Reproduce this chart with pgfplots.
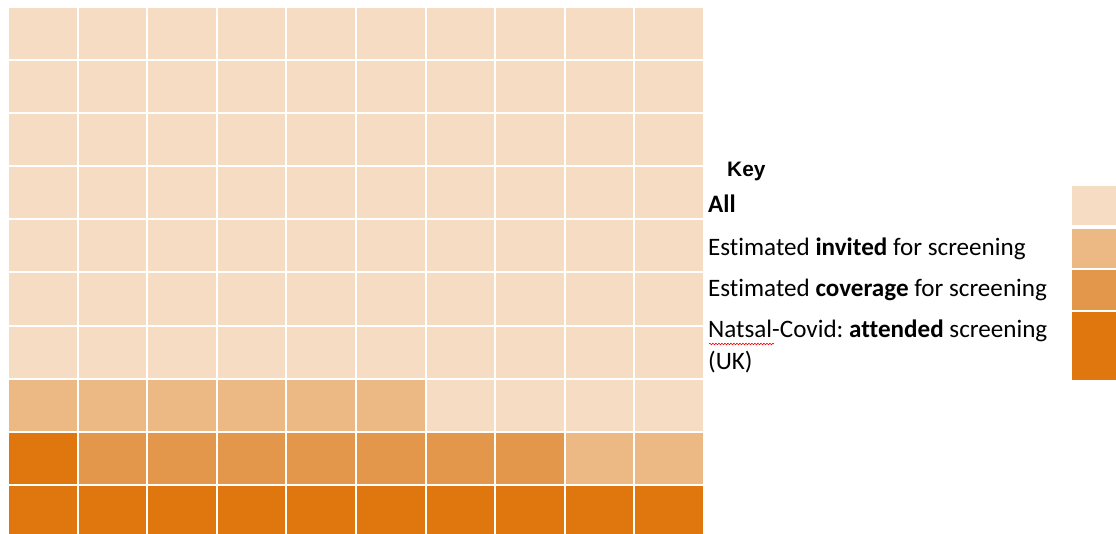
\documentclass[border=0pt]{standalone}
\usepackage{fontspec}
\setmainfont{Carlito}[Ligatures=NoCommon]
\newfontfamily\keyfont{Liberation Sans}
\usepackage{pgfplots}
\usepackage{pgfplotstable}
\pgfplotsset{compat=1.18}
\usetikzlibrary{decorations.pathmorphing}

\definecolor{cAll}{HTML}{F5DCC2}
\definecolor{cInv}{HTML}{ECB985}
\definecolor{cCov}{HTML}{E3974A}
\definecolor{cAtt}{HTML}{DF760E}

% waffle: each column of 10 squares, stacked bottom to top
\pgfplotstableread{
x   att cov inv all
0.5 2   0   1   7
1.5 1   1   1   7
2.5 1   1   1   7
3.5 1   1   1   7
4.5 1   1   1   7
5.5 1   1   1   7
6.5 1   1   0   8
7.5 1   1   0   8
8.5 1   0   1   8
9.5 1   0   1   8
}\waffle

\begin{document}
\frenchspacing
\begin{tikzpicture}[x=1bp,y=1bp]
\useasboundingbox (0,0) rectangle (1116,534);
\begin{axis}[
  at={(8bp,-4bp)}, anchor=south west,
  scale only axis, width=696bp, height=531bp,
  xmin=0, xmax=10, ymin=0, ymax=10,
  ybar stacked, bar width=1,
  xtick={0,...,10}, ytick={0,...,10},
  xticklabels={}, yticklabels={},
  major tick length=0pt,
  axis line style={draw=none},
  grid=major, grid style={white, line width=2bp},
  axis on top,
]
\addplot[fill=cAtt, draw=none] table[x=x, y=att] {\waffle};
\addplot[fill=cCov, draw=none] table[x=x, y=cov] {\waffle};
\addplot[fill=cInv, draw=none] table[x=x, y=inv] {\waffle};
\addplot[fill=cAll, draw=none] table[x=x, y=all] {\waffle};
\end{axis}

% key
\node[anchor=base west, inner sep=0pt, font=\keyfont\bfseries\fontsize{21}{25}\selectfont] at (727,357) {Key};
\begin{scope}[every node/.style={anchor=base west, inner sep=0pt, font=\fontsize{25.2}{30}\selectfont}]
\node at (708,321) {\textbf{All}};
\node at (708,278) {Estimated \textbf{invited} for screening};
\node at (708,237) {Estimated \textbf{coverage} for screening};
\node at (708,196) {Natsal-Covid: \textbf{attended} screening};
\node at (708,164) {(UK)};
\end{scope}
\draw[red, line width=0.6bp, decorate, decoration={snake, amplitude=0.8bp, segment length=3bp}] (709,190) -- (774,190);

\fill[cAll] (1072,309) rectangle (1120,348);
\fill[cInv] (1072,266) rectangle (1120,305);
\fill[cCov] (1072,224) rectangle (1120,264);
\fill[cAtt] (1072,154) rectangle (1120,222);
\end{tikzpicture}
\end{document}
